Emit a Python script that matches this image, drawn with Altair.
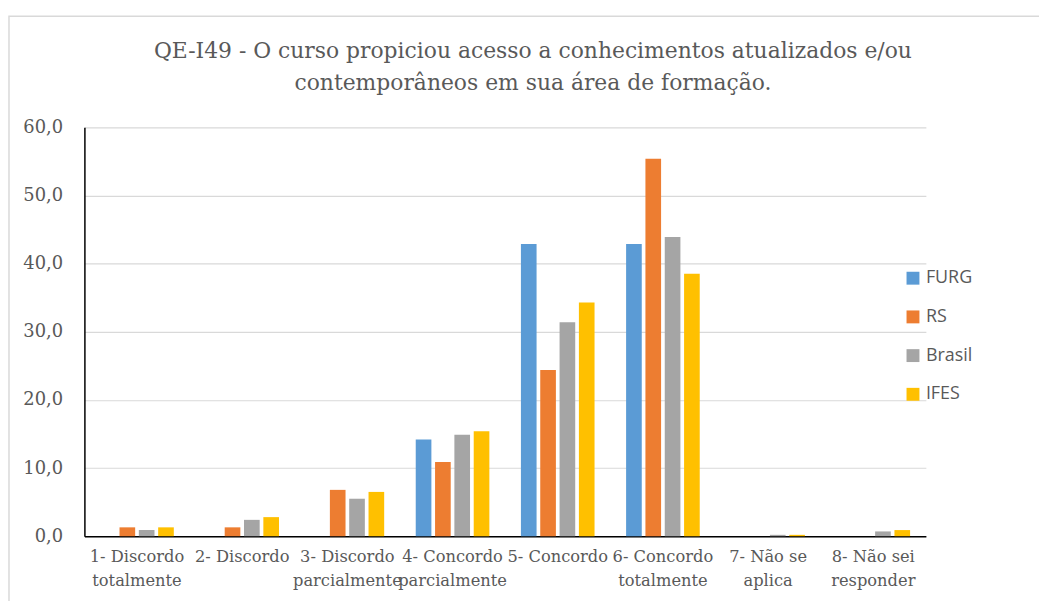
import altair as alt
import pandas as pd

categories = [
    "1- Discordo|totalmente",
    "2- Discordo",
    "3- Discordo|parcialmente",
    "4- Concordo|parcialmente",
    "5- Concordo",
    "6- Concordo|totalmente",
    "7- Não se|aplica",
    "8- Não sei|responder",
]
series = ["FURG", "RS", "Brasil", "IFES"]
colors = ["#5B9BD5", "#ED7D31", "#A5A5A5", "#FFC000"]

furg = [0.0, 0.0, 0.0, 14.2, 42.9, 42.9, 0.0, 0.0]
rs = [1.3, 1.3, 6.8, 10.9, 24.4, 55.4, 0.0, 0.0]
brasil = [0.9, 2.4, 5.5, 14.9, 31.4, 43.9, 0.2, 0.7]
ifes = [1.3, 2.8, 6.5, 15.4, 34.3, 38.5, 0.2, 0.9]

title_lines = [
    "QE-I49 - O curso propiciou acesso a conhecimentos atualizados e/ou",
    "contemporâneos em sua área de formação.",
]

rows = []
for s, vals in zip(series, [furg, rs, brasil, ifes]):
    for c, v in zip(categories, vals):
        rows.append({"cat": c, "serie": s, "valor": v})
df = pd.DataFrame(rows)

SERIF = "DejaVu Serif"
GREY = "#595959"

bars = alt.Chart(df).mark_bar().encode(
    x=alt.X(
        "cat:N",
        sort=categories,
        scale=alt.Scale(paddingInner=0.30, paddingOuter=0.15),
        axis=alt.Axis(
            title=None,
            labelAngle=0,
            ticks=False,
            domainColor="#000000",
            domainWidth=1.5,
            labelExpr="split(datum.label, '|')",
            labelFont=SERIF,
            labelFontSize=16.4,
            labelColor=GREY,
            labelPadding=13,
            labelLineHeight=24,
            labelBaseline="top",
        ),
    ),
    xOffset=alt.XOffset(
        "serie:N", sort=series, scale=alt.Scale(paddingInner=0.19, paddingOuter=0)
    ),
    y=alt.Y(
        "valor:Q",
        scale=alt.Scale(domain=[0, 60]),
        axis=alt.Axis(
            title=None,
            values=[0, 10, 20, 30, 40, 50, 60],
            labelExpr="replace(format(datum.value, '.1f'), '.', ',')",
            ticks=False,
            domainColor="#000000",
            domainWidth=1.5,
            gridColor="#D9D9D9",
            gridWidth=1.2,
            labelFont=SERIF,
            labelFontSize=18,
            labelColor=GREY,
            labelPadding=22,
        ),
    ),
    color=alt.Color(
        "serie:N",
        sort=series,
        scale=alt.Scale(domain=series, range=colors),
        legend=alt.Legend(
            title=None,
            orient="none",
            legendX=826,
            legendY=143,
            symbolType="square",
            symbolSize=169,
            symbolStrokeWidth=0,
            labelFont="Open Sans",
            labelFontSize=18,
            labelColor=GREY,
            labelOffset=4,
            rowPadding=21,
        ),
    ),
)

frame_df = pd.DataFrame({"k": [0]})
frame = alt.Chart(frame_df).mark_rect(
    fill=None, stroke="#D9D9D9", strokeWidth=1.5
).encode(
    x=alt.value(-76),
    x2=alt.value(975),
    y=alt.value(-112),
    y2=alt.value(495),
)

title_df = pd.DataFrame({"t": ["\n".join(title_lines)]})
title = alt.Chart(title_df).mark_text(
    font=SERIF,
    fontSize=22,
    color=GREY,
    align="center",
    baseline="middle",
    lineBreak="\n",
    lineHeight=32,
).encode(
    text="t:N",
    x=alt.value(452),
    y=alt.value(-77),
)

chart = alt.layer(frame, title, bars).properties(
    width=848,
    height=412,
    padding={"left": 77, "top": 118, "right": 114, "bottom": 63},
    autosize=alt.AutoSizeParams(type="none"),
).configure_view(stroke=None)

chart.save("out.html", embed_options={"renderer": "svg", "actions": False})
